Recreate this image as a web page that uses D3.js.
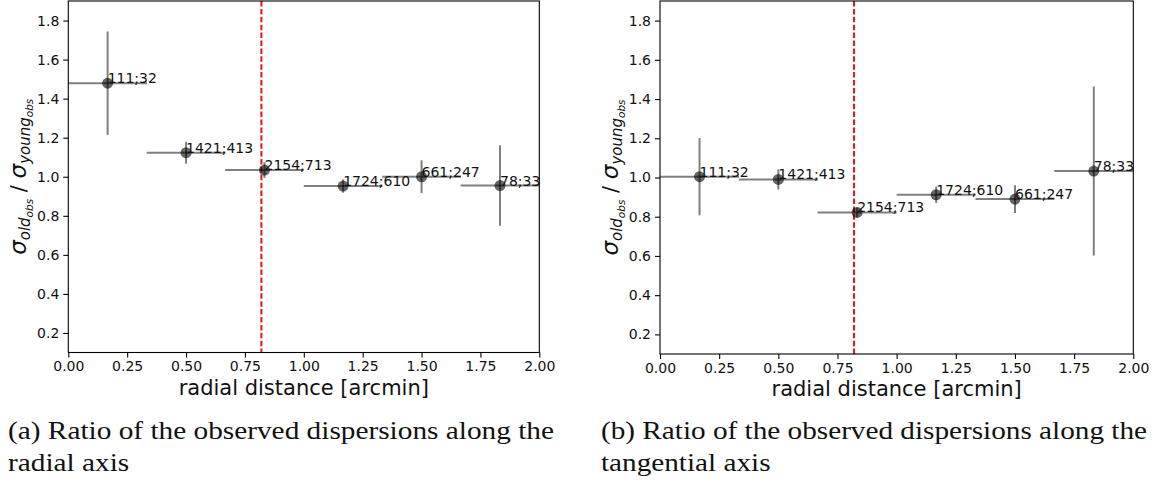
<!DOCTYPE html>
<html>
<head>
<meta charset="utf-8">
<script src="https://cdn.jsdelivr.net/npm/d3@7"></script>
<style>
  html, body { margin: 0; padding: 0; background: #fff; }
  svg { display: block; }
  .tick text { font-family: "DejaVu Sans", sans-serif; font-size: 14px; fill: #111; }
</style>
</head>
<body>
<svg id="fig" width="1160" height="484"></svg>
<script>
// Radial bins (arcmin): centres and half-widths
const binCenters = [0.167, 0.5, 0.833, 1.167, 1.5, 1.833];
const binHalfWidth = [0.167, 0.167, 0.167, 0.167, 0.167, 0.167];
// Star counts per bin: "old;young"
const countLabels = ["111;32", "1421;413", "2154;713", "1724;610", "661;247", "78;33"];

// Ratio of observed dispersions (old / young), radial component
const radialRatio = [1.479, 1.123, 1.034, 0.952, 1.000, 0.955];
const radialErr   = [0.265, 0.056, 0.040, 0.034, 0.084, 0.206];
// Same ratio, tangential component
const tangRatio = [1.004, 0.990, 0.822, 0.912, 0.890, 1.033];
const tangErr   = [0.197, 0.051, 0.025, 0.042, 0.071, 0.431];

// Reference radius marked by the dashed line
const refRadius = 0.82;

const xTicks = [0, 0.25, 0.5, 0.75, 1.0, 1.25, 1.5, 1.75, 2.0];
const yTicks = [0.2, 0.4, 0.6, 0.8, 1.0, 1.2, 1.4, 1.6, 1.8];
const xDomain = [0, 2];
const yDomain = [0.1, 1.9];

const captions = [
  ["(a) Ratio of the observed dispersions along the", "radial axis"],
  ["(b) Ratio of the observed dispersions along the", "tangential axis"]
];

const svg = d3.select("#fig");

const panels = [
  { left: 68.3, right: 539.3, top: 1, bottom: 352.5, ratio: radialRatio, err: radialErr, cap: captions[0], capX: 8 },
  { left: 660, right: 1133.3, top: 1, bottom: 354, ratio: tangRatio, err: tangErr, cap: captions[1], capX: 601 }
];

panels.forEach(p => {
  const x = d3.scaleLinear().domain(xDomain).range([p.left, p.right]);
  const y = d3.scaleLinear().domain(yDomain).range([p.bottom, p.top]);
  const g = svg.append("g");

  const data = binCenters.map((c, i) => ({
    x: c, hw: binHalfWidth[i], y: p.ratio[i], e: p.err[i], label: countLabels[i]
  }));

  // reference radius
  g.append("line")
    .attr("x1", x(refRadius)).attr("x2", x(refRadius))
    .attr("y1", y(yDomain[1])).attr("y2", y(yDomain[0]))
    .attr("stroke", "#ee1111").attr("stroke-width", 2)
    .attr("stroke-dasharray", "5.5,2.4");

  // error bars
  const eb = g.append("g").attr("stroke", "#000").attr("stroke-opacity", 0.5).attr("stroke-width", 2);
  eb.selectAll("line.h").data(data).join("line")
    .attr("x1", d => x(d.x - d.hw)).attr("x2", d => x(d.x + d.hw))
    .attr("y1", d => y(d.y)).attr("y2", d => y(d.y));
  eb.selectAll("line.v").data(data).join("line")
    .attr("x1", d => x(d.x)).attr("x2", d => x(d.x))
    .attr("y1", d => y(d.y - d.e)).attr("y2", d => y(d.y + d.e));

  // points
  g.selectAll("circle").data(data).join("circle")
    .attr("cx", d => x(d.x)).attr("cy", d => y(d.y)).attr("r", 5.5)
    .attr("fill", "#000").attr("fill-opacity", 0.6);

  // count labels
  g.selectAll("text.lbl").data(data).join("text")
    .attr("class", "lbl")
    .attr("x", d => x(d.x)).attr("y", d => y(d.y))
    .attr("font-family", "DejaVu Sans, sans-serif").attr("font-size", 14)
    .attr("fill", "#111")
    .text(d => d.label);

  // axes
  const ax = g.append("g").attr("transform", `translate(0,${p.bottom})`)
    .call(d3.axisBottom(x).tickValues(xTicks).tickFormat(d3.format(".2f")).tickSize(5).tickPadding(4));
  const ay = g.append("g").attr("transform", `translate(${p.left},0)`)
    .call(d3.axisLeft(y).tickValues(yTicks).tickFormat(d3.format(".1f")).tickSize(5).tickPadding(4));
  [ax, ay].forEach(a => {
    a.select(".domain").remove();
    a.selectAll(".tick line").attr("stroke", "#000").attr("stroke-width", 1.1);
  });

  // frame
  g.append("rect")
    .attr("x", p.left).attr("y", p.top)
    .attr("width", p.right - p.left).attr("height", p.bottom - p.top)
    .attr("fill", "none").attr("stroke", "#000").attr("stroke-width", 1.1);

  // x label
  g.append("text")
    .attr("x", (p.left + p.right) / 2).attr("y", p.bottom + 42)
    .attr("text-anchor", "middle")
    .attr("font-family", "DejaVu Sans, sans-serif").attr("font-size", 21)
    .attr("fill", "#111")
    .text("radial distance [arcmin]");

  // y label: sigma_{old_obs} / sigma_{young_obs}
  const cy = (p.top + p.bottom) / 2;
  const yl = g.append("text")
    .attr("transform", `translate(${p.left - 42},${cy}) rotate(-90)`)
    .attr("text-anchor", "middle")
    .attr("font-family", "DejaVu Sans, sans-serif").attr("font-size", 21)
    .attr("fill", "#111");
  const part = (txt, size, dy, italic) => yl.append("tspan")
    .attr("font-size", size).attr("dy", dy)
    .attr("font-style", italic ? "italic" : "normal").text(txt);
  part("σ", 23, 0, true);
  part("old", 15, 4, true);
  part("obs", 10.5, 3, true);
  part(" / ", 21, -7, false);
  part("σ", 23, 0, true);
  part("young", 15, 4, true);
  part("obs", 10.5, 3, true);

  // caption: two lines, glyphs widened to the full caption width
  const capFont = (sel) => sel
    .attr("font-family", "Liberation Serif, serif").attr("font-size", 25)
    .attr("fill", "#111");
  const l1 = g.append("text").call(capFont).attr("x", p.capX).attr("y", 439).text(p.cap[0]);
  const l2 = g.append("text").call(capFont).attr("x", p.capX).attr("y", 471).text(p.cap[1]);
  const w1 = l1.node().getComputedTextLength();
  const w2 = l2.node().getComputedTextLength();
  const k = 546 / w1;
  l1.attr("textLength", 546).attr("lengthAdjust", "spacingAndGlyphs");
  l2.attr("textLength", w2 * k).attr("lengthAdjust", "spacingAndGlyphs");
});
</script>
</body>
</html>
